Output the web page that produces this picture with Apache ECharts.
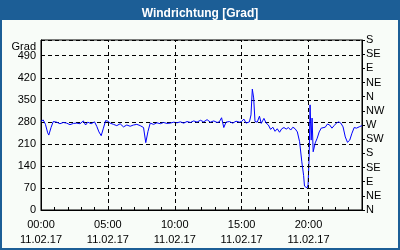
<!DOCTYPE html>
<html><head><meta charset="utf-8">
<script src="https://cdn.jsdelivr.net/npm/echarts@6/dist/echarts.min.js"></script>
<style>html,body{margin:0;padding:0;background:#F8FCF8}#c{width:400px;height:250px}</style>
</head><body><div id="c"></div>
<script>
const titleText = 'Windrichtung [Grad]';
const dateLabel = '11.02.17';
const xTickLabels = ['00:00','05:00','10:00','15:00','20:00'];
const gridHours = [5, 10, 15, 20];
const leftUnit = 'Grad';
const compassLabels = ['N','NE','E','SE','S','SW','W','NW','N','NE','E','SE','S'];

const times = [
 "00:00","00:10","00:20","00:30","00:35","00:45","00:55","01:10","01:25","01:40","01:55",
 "02:10","02:25","02:40","02:55","03:10","03:20","03:30","03:45","04:00","04:10","04:20",
 "04:30","04:40","04:50","05:00","05:10","05:25","05:40","05:55","06:10","06:25","06:40",
 "06:55","07:10","07:25","07:40","07:50","08:00","08:10","08:25","08:40","08:55","09:10",
 "09:25","09:40","09:55","10:10","10:25","10:40","10:55","11:10","11:25","11:40","11:55",
 "12:10","12:25","12:40","12:55","13:10","13:20","13:30","13:40","13:50","14:05","14:20",
 "14:35","14:50","15:00","15:10","15:20","15:35","15:42","15:48","15:54","16:00","16:10",
 "16:20","16:28","16:40","16:50","17:00","17:10","17:20","17:30","17:40","17:50","18:00",
 "18:10","18:20","18:30","18:40","18:50","19:00","19:10","19:20","19:30","19:38","19:42",
 "19:47","19:53","19:58","20:03","20:07","20:12","20:16","20:21","20:30","20:39","20:48",
 "20:57","21:05","21:15","21:25","21:35","21:45","21:55","22:05","22:15","22:25","22:35",
 "22:45","22:55","23:05","23:15","23:25","23:35","23:50","24:00"
];
const values = [
 282,286,272,245,238,262,281,279,274,278,276,
 271,275,276,274,283,270,279,274,280,266,248,
 236,260,284,282,276,272,268,274,264,270,266,
 270,272,268,262,214,250,276,272,277,274,278,
 275,276,279,277,280,276,281,278,283,279,285,
 280,287,279,283,278,280,293,262,279,281,276,
 282,279,281,289,276,280,302,384,356,281,279,
 298,275,291,276,270,256,263,250,258,247,258,
 262,257,262,254,263,258,248,217,153,110,76,
 70,70,80,169,334,222,292,185,213,228,248,
 260,254,263,273,270,260,268,276,280,276,264,
 232,215,222,244,262,260,265,268
];

function toHours(t){ const p = t.split(':'); return +p[0] + (+p[1]) / 60; }
const seriesData = times.map((t, i) => [toHours(t), values[i]]);

const font = 'Liberation Sans';
const chart = echarts.init(document.getElementById('c'), null, {renderer: 'canvas'});
chart.setOption({
  animation: false,
  backgroundColor: '#F8FCF8',
  textStyle: {fontFamily: font},
  title: {
    text: titleText, left: 'center', top: 3, z: 10,
    textStyle: {color: '#ffffff', fontSize: 12, fontWeight: 'bold', fontFamily: font}
  },
  graphic: [
    {type: 'rect', z: 0, silent: true, shape: {x: 0, y: 0, width: 400, height: 20}, style: {fill: '#1C5E96'}},
    {type: 'rect', z: 0, silent: true, shape: {x: 1, y: 1, width: 398, height: 248}, style: {fill: 'none', stroke: '#1C5E96', lineWidth: 2}},
    {type: 'text', z: 5, silent: true, x: 36, y: 47, style: {text: leftUnit, align: 'right', verticalAlign: 'middle', fontSize: 11, fontFamily: font, fill: '#000'}}
  ],
  grid: {left: 41, right: 38, top: 40, bottom: 40, show: true, borderColor: '#000', borderWidth: 1, backgroundColor: 'transparent', containLabel: false},
  xAxis: {
    type: 'value', min: 0, max: 24, interval: 1,
    axisLine: {show: true, lineStyle: {color: '#000', width: 1}},
    axisTick: {show: true, inside: true, length: 3, lineStyle: {color: '#000'}},
    axisLabel: {
      color: '#000', fontSize: 11, fontFamily: font, lineHeight: 15, margin: 7,
      formatter: function (v) {
        const i = v / 5;
        if (Number.isInteger(i) && xTickLabels[i]) return xTickLabels[i] + '\n' + dateLabel;
        return '';
      }
    },
    splitLine: {show: false}
  },
  yAxis: [
    {
      type: 'value', min: 0, max: 540, interval: 70, position: 'left',
      axisLine: {show: true, lineStyle: {color: '#000'}},
      axisTick: {show: false},
      axisLabel: {color: '#000', fontSize: 11, fontFamily: font, margin: 5,
        formatter: function (v) { return v > 490 ? '' : String(v); }},
      splitLine: {show: true, lineStyle: {color: '#000', width: 1, type: [4, 3]}}
    },
    {
      type: 'value', min: 0, max: 540, interval: 45, position: 'right',
      axisLine: {show: true, lineStyle: {color: '#000'}},
      axisTick: {show: true, length: 3, lineStyle: {color: '#000'}},
      axisLabel: {color: '#000', fontSize: 11, fontFamily: font, margin: 4,
        formatter: function (v) { return compassLabels[Math.round(v / 45)] || ''; }},
      splitLine: {show: false}
    }
  ],
  series: [{
    type: 'line', xAxisIndex: 0, yAxisIndex: 0,
    data: seriesData, showSymbol: false, symbol: 'none',
    lineStyle: {color: '#0000FF', width: 1},
    markLine: {
      silent: true, symbol: ['none', 'none'], label: {show: false},
      lineStyle: {color: '#000', width: 1, type: [4, 3]},
      data: gridHours.map(h => ({xAxis: h}))
    }
  }]
});
</script>
</body></html>
